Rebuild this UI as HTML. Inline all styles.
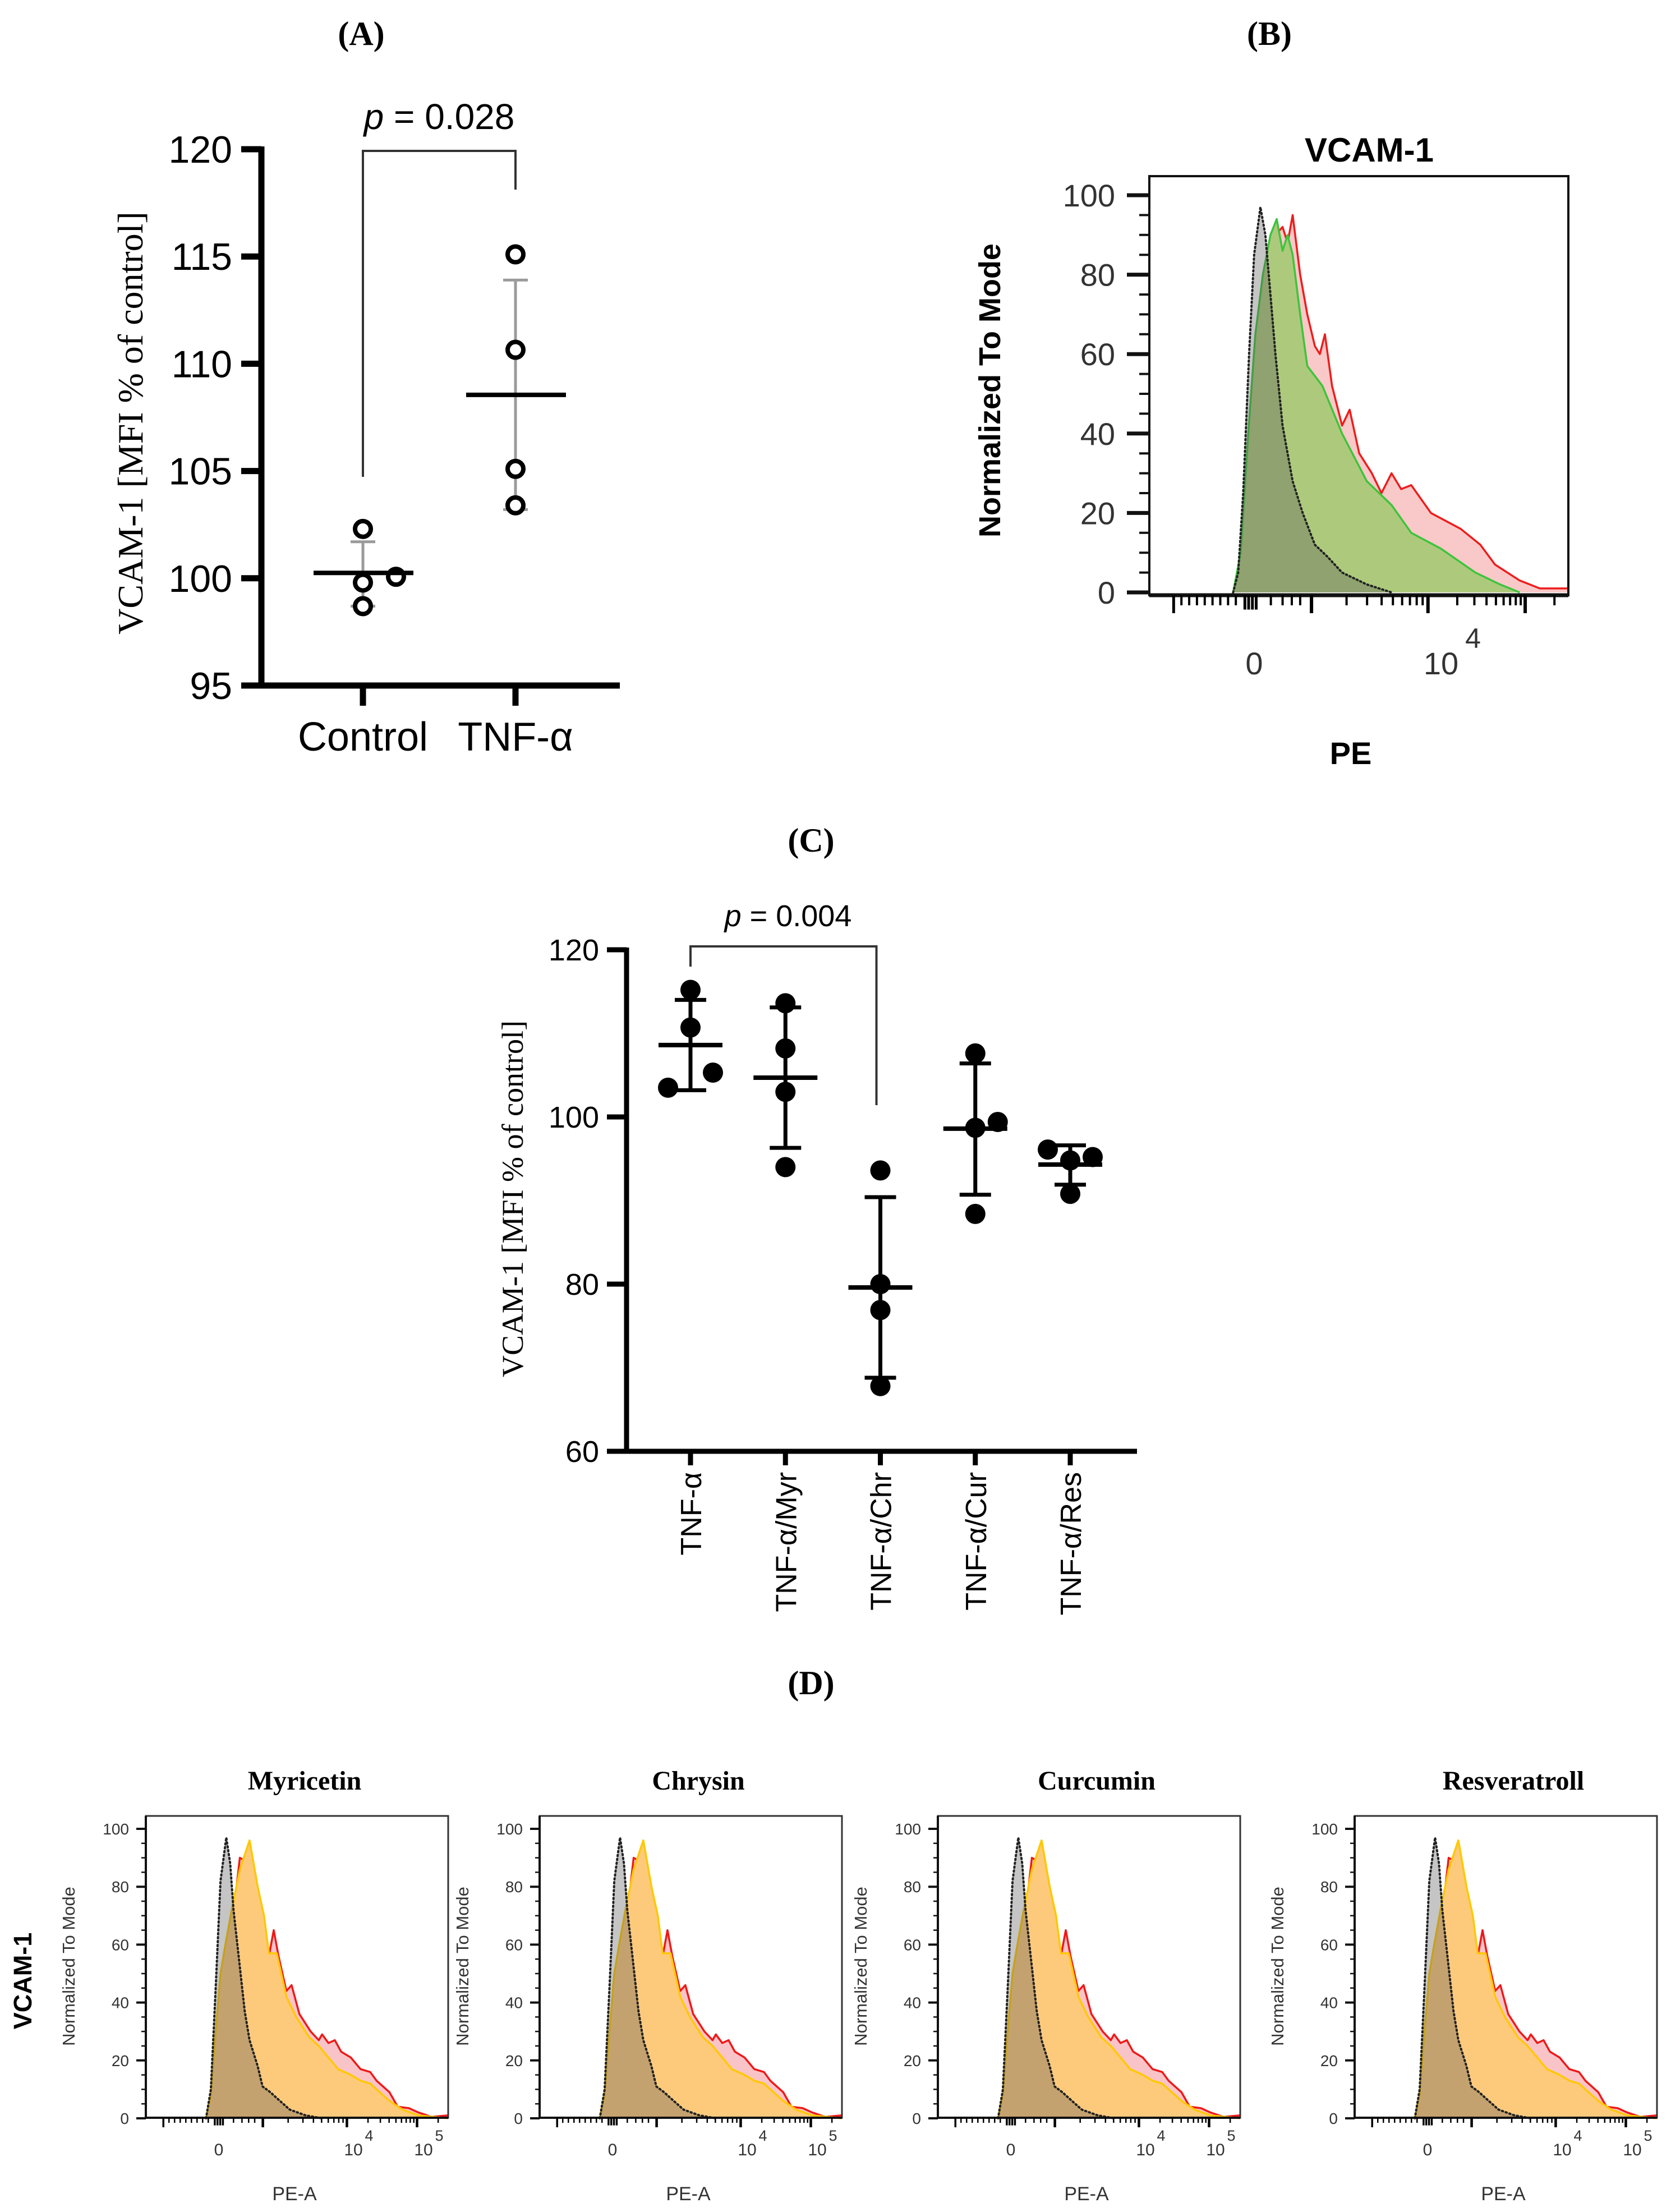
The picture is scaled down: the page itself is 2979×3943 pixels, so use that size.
<!DOCTYPE html>
<html><head><meta charset="utf-8"><style>
html,body{margin:0;padding:0;background:#fff;}
svg{display:block;}
</style></head><body>
<svg id="fig" xmlns="http://www.w3.org/2000/svg" width="2979" height="3943" viewBox="0 0 2979 3943"></svg>
<script>
// ---------- Panel A data ----------
const aCats = ['Control', 'TNF-α'];
const aCtrlVals = [102.3, 100.07, 99.8, 98.7];
const aTnfVals = [115.1, 110.65, 105.1, 103.4];
const aMeans = [100.25, 108.55];
const aSdLow = [98.7, 103.2];
const aSdHigh = [101.7, 113.9];
const aTicks = [95, 100, 105, 110, 115, 120];
// ---------- Panel C data ----------
const cCats = ['TNF-α', 'TNF-α/Myr', 'TNF-α/Chr', 'TNF-α/Cur', 'TNF-α/Res'];
const cTnf = [115.2, 110.7, 105.3, 103.5];
const cMyr = [113.6, 108.2, 103.0, 94.0];
const cChr = [93.6, 80.0, 76.9, 67.8];
const cCur = [107.6, 98.7, 99.4, 88.4];
const cRes = [96.1, 94.8, 95.2, 90.8];
const cMeans = [108.6, 104.7, 79.6, 98.6, 94.3];
const cSdLow = [103.2, 96.3, 68.8, 90.7, 91.9];
const cSdHigh = [114.0, 113.1, 90.4, 106.4, 96.6];
const cTicks = [60, 80, 100, 120];
// ---------- Panel B histogram data (x = fraction of log axis, y = % of mode) ----------
const bGrayX = [.200,.212,.224,.238,.250,.265,.277,.289,.301,.318,.342,.366,.395,.425,.460,.519,.578];
const bGrayY = [0,5,25,60,85,97,90,75,60,42,28,20,12,9,5,2,0];
const bGreenX = [.200,.218,.236,.253,.271,.289,.304,.318,.330,.342,.360,.377,.413,.460,.519,.578,.625,.696,.778,.837,.884];
const bGreenY = [0,10,40,65,80,90,94,86,90,85,70,57,52,40,28,22,15,11,5,2,0];
const bRedX = [.200,.218,.236,.253,.271,.301,.318,.330,.342,.360,.377,.395,.407,.419,.436,.460,.478,.501,.531,.554,.578,.601,.625,.672,.743,.790,.825,.884,.932,1.0];
const bRedY = [0,8,35,60,78,90,92,88,95,80,70,62,60,65,52,42,46,35,30,25,30,26,27,20,16,12,7,3,1,1];
const flowYTicks = [0, 20, 40, 60, 80, 100];
// ---------- Panel D histogram data ----------
const dTitles = ['Myricetin', 'Chrysin', 'Curcumin', 'Resveratroll'];
const dGrayX = [.199,.215,.231,.247,.266,.279,.290,.306,.327,.343,.370,.386,.412,.433,.476,.529,.583];
const dGrayY = [0,10,45,82,97,88,72,57,37,27,18,11,9,7,3,1,0];
const dRedX = [.199,.215,.231,.247,.263,.284,.300,.311,.327,.343,.364,.386,.407,.423,.439,.465,.482,.508,.545,.572,.583,.604,.625,.646,.678,.710,.742,.763,.806,.833,.870,.902,.945,1.0];
const dRedY = [0,5,25,45,58,68,80,90,89,94,74,72,56,65,56,44,46,36,30,27,29,26,27,23,21,17,16,13,9,4,3.5,2,0.5,1];
const dYelX = [.199,.215,.231,.247,.263,.284,.311,.343,.370,.391,.407,.433,.465,.497,.540,.572,.604,.636,.678,.710,.742,.806,.849,.902,1.0];
const dYelY = [0,8,30,50,60,72,86,96,80,70,57,57,42,35,28,25,21,17,15,13,12,6,3,1,0];

const NS = 'http://www.w3.org/2000/svg';
const svg = document.getElementById('fig');
function mk(tag, attrs, name, parent) {
  const e = document.createElementNS(NS, tag);
  for (const k in attrs) e.setAttribute(k, attrs[k]);
  
  
  (parent || svg).appendChild(e);
  return e;
}
function ln(x1, y1, x2, y2, stroke, w, name, p) {
  return mk('line', {x1, y1, x2, y2, stroke, 'stroke-width': w}, name, p);
}
function tx(str, x, y, attrs, name, p) {
  const t = mk('text', Object.assign({x, y}, attrs), name, p);
  t.textContent = str;
  return t;
}
const SANS = '"Liberation Sans", Arial, sans-serif';
const SERIF = '"Liberation Serif", "Times New Roman", serif';

// ================= Panel A =================
const gA = mk('g', {}, 'panel-a');
tx('(A)', 644, 80, {'font-family': SERIF, 'font-size': 60, 'font-weight': 'bold', 'text-anchor': 'middle'}, 'panel-a-label', gA);
const aY = v => 266 + (120 - v) * (956 / 25);
const aX = [647, 919];
ln(466, 261, 466, 1227, '#000', 11, 'y-axis', gA);
ln(461, 1222, 1105, 1222, '#000', 11, 'x-axis', gA);
aTicks.forEach(t => {
  ln(430, aY(t), 466, aY(t), '#000', 11, 'y-tick', gA);
  tx(String(t), 414, aY(t) + 24, {'font-family': SANS, 'font-size': 68, 'text-anchor': 'end'}, 'y-tick-label', gA);
});
aCats.forEach((c, i) => {
  ln(aX[i], 1222, aX[i], 1258, '#000', 11, 'x-tick', gA);
  tx(c, aX[i], 1338, {'font-family': SANS, 'font-size': 72, 'text-anchor': 'middle'}, 'x-tick-label', gA);
});
tx('VCAM-1 [MFI % of control]', 0, 0, {'font-family': SERIF, 'font-size': 64, 'text-anchor': 'middle', transform: 'translate(254,754) rotate(-90)'}, 'y-axis-title', gA);
mk('polyline', {points: `${aX[0]},850 ${aX[0]},269 ${aX[1]},269 ${aX[1]},338`, fill: 'none', stroke: '#333', 'stroke-width': 4}, 'significance-bracket', gA);
const pA = tx('', 783, 230, {'font-family': SANS, 'font-size': 64, 'text-anchor': 'middle'}, 'p-value-label', gA);
pA.innerHTML = '<tspan font-style="italic">p</tspan> = 0.028';
[0, 1].forEach(i => {
  ln(aX[i], aY(aSdLow[i]), aX[i], aY(aSdHigh[i]), '#9a9a9a', 5, 'error-bar', gA);
  ln(aX[i] - 22, aY(aSdLow[i]), aX[i] + 22, aY(aSdLow[i]), '#9a9a9a', 5, 'error-cap', gA);
  ln(aX[i] - 22, aY(aSdHigh[i]), aX[i] + 22, aY(aSdHigh[i]), '#9a9a9a', 5, 'error-cap', gA);
});
const aJitCtrl = [0, 59, 0, 0];
aCtrlVals.forEach((v, j) => mk('circle', {cx: aX[0] + aJitCtrl[j], cy: aY(v), r: 14, fill: '#fff', stroke: '#000', 'stroke-width': 8}, 'control-point', gA));
aTnfVals.forEach(v => mk('circle', {cx: aX[1], cy: aY(v), r: 14, fill: '#fff', stroke: '#000', 'stroke-width': 8}, 'tnf-point', gA));
[0, 1].forEach(i => ln(aX[i] - 88, aY(aMeans[i]), aX[i] + 90, aY(aMeans[i]), '#000', 8, 'mean-line', gA));

// ================= Flow histogram helpers =================
function flowAxis(L, W, y0, y100) {
  const fx = f => L + f * W;
  const fy = v => y0 - v * (y0 - y100) / 100;
  return {fx, fy};
}
function histo(g, fx, fy, xs, ys, fill, stroke, dashed, name) {
  const pts = xs.map((x, i) => `${fx(x).toFixed(1)},${fy(ys[i]).toFixed(1)}`);
  const base = fy(0);
  mk('path', {d: `M${fx(xs[0])},${base} L${pts.join(' L')} L${fx(xs[xs.length-1])},${base} Z`, fill: fill, stroke: 'none'}, name + '-fill', g);
  const a = {d: 'M' + pts.join(' L'), fill: 'none', stroke: stroke, 'stroke-width': dashed ? 4 : 3.5, 'stroke-linejoin': 'round'};
  if (dashed) { a['stroke-dasharray'] = '2 5'; a['stroke-linecap'] = 'round'; }
  mk('path', a, name + '-line', g);
}
function logTicks(g, fx, bottom, majLen, minLen, w) {
  const dec = [0.245, 0.387, 0.665, 0.897];
  const negMaj = 0.058;
  ln(fx(negMaj), bottom, fx(negMaj), bottom + majLen, '#000', w + 1, 'x-tick', g);
  for (let k = 1; k < 9; k++) {
    const f = negMaj + (0.225 - negMaj) * k / 9;
    ln(fx(f), bottom, fx(f), bottom + minLen, '#000', w, 'x-minor-tick', g);
  }
  for (let k = 0; k < 4; k++) ln(fx(0.228 + k * 0.009), bottom, fx(0.228 + k * 0.009), bottom + majLen * 0.8, '#000', w + 1, 'x-tick', g);
  [0.29, 0.318, 0.34, 0.36].forEach(f => ln(fx(f), bottom, fx(f), bottom + minLen, '#000', w, 'x-minor-tick', g));
  for (let d = 1; d < 4; d++) {
    ln(fx(dec[d]), bottom, fx(dec[d]), bottom + majLen, '#000', w + 2, 'x-tick', g);
    const span = d < 3 ? dec[d + 1] - dec[d] : 0.232;
    for (let k = 2; k <= 9; k++) {
      const f = dec[d] + Math.log10(k) * span;
      if (f < 0.99) ln(fx(f), bottom, fx(f), bottom + minLen, '#000', w, 'x-minor-tick', g);
    }
  }
}

// ================= Panel B =================
const gB = mk('g', {}, 'panel-b');
tx('(B)', 2263, 80, {'font-family': SERIF, 'font-size': 60, 'font-weight': 'bold', 'text-anchor': 'middle'}, 'panel-b-label', gB);
tx('VCAM-1', 2441, 288, {'font-family': SANS, 'font-size': 60, 'font-weight': 'bold', 'text-anchor': 'middle'}, 'histogram-title', gB);
{
  const L = 2049, T = 314, W = 747, H = 747;
  const {fx, fy} = flowAxis(L, W, 1056, 348);
  histo(gB, fx, fy, bRedX, bRedY, '#f9c8c8', '#ee1c1c', false, 'tnf-histogram');
  histo(gB, fx, fy, bGreenX, bGreenY, '#adca7c', '#3cc43c', false, 'control-histogram');
  histo(gB, fx, fy, bGrayX, bGrayY, 'rgba(90,90,90,0.35)', '#222', true, 'isotype-histogram');
  mk('rect', {x: L, y: T, width: W, height: H, fill: 'none', stroke: '#111', 'stroke-width': 4}, 'plot-frame', gB);
  ln(L, T + H, L + W, T + H, '#111', 7, 'x-axis', gB);
  for (let v = 0; v <= 100; v += 5) {
    const maj = v % 20 === 0;
    ln(maj ? L - 40 : L - 18, fy(v), L, fy(v), '#111', maj ? 7 : 4, maj ? 'y-tick' : 'y-minor-tick', gB);
  }
  flowYTicks.forEach(v => tx(String(v), 1988, fy(v) + 20, {'font-family': SANS, 'font-size': 56, fill: '#333', 'text-anchor': 'end'}, 'y-tick-label', gB));
  logTicks(gB, fx, T + H, 32, 18, 4);
  tx('0', 2236, 1202, {'font-family': SANS, 'font-size': 56, fill: '#333', 'text-anchor': 'middle'}, 'x-tick-label', gB);
  tx('10', 2569, 1202, {'font-family': SANS, 'font-size': 56, fill: '#333', 'text-anchor': 'middle'}, 'x-tick-label', gB);
  tx('4', 2626, 1155, {'font-family': SANS, 'font-size': 50, fill: '#333', 'text-anchor': 'middle'}, 'x-tick-exponent', gB);
  tx('PE', 2408, 1362, {'font-family': SANS, 'font-size': 56, 'font-weight': 'bold', 'text-anchor': 'middle'}, 'x-axis-title', gB);
  tx('Normalized To Mode', 0, 0, {'font-family': SANS, 'font-size': 54, 'font-weight': 'bold', 'text-anchor': 'middle', transform: 'translate(1783,696) rotate(-90)'}, 'y-axis-title', gB);
}

// ================= Panel C =================
const gC = mk('g', {}, 'panel-c');
tx('(C)', 1446, 1518, {'font-family': SERIF, 'font-size': 60, 'font-weight': 'bold', 'text-anchor': 'middle'}, 'panel-c-label', gC);
const cY = v => 1693 + (120 - v) * (2587 - 1693) / 60;
const cX = i => 1231 + i * 169.25;
ln(1117, 1689, 1117, 2591, '#000', 9, 'y-axis', gC);
ln(1113, 2587, 2027, 2587, '#000', 9, 'x-axis', gC);
cTicks.forEach(t => {
  ln(1082, cY(t), 1117, cY(t), '#000', 9, 'y-tick', gC);
  tx(String(t), 1068, cY(t) + 19, {'font-family': SANS, 'font-size': 54, 'text-anchor': 'end'}, 'y-tick-label', gC);
});
cCats.forEach((c, i) => {
  ln(cX(i), 2587, cX(i), 2612, '#000', 9, 'x-tick', gC);
  tx(c, 0, 0, {'font-family': SANS, 'font-size': 52, 'text-anchor': 'end', transform: `translate(${cX(i) + 19},2624) rotate(-90)`}, 'x-tick-label', gC);
});
tx('VCAM-1 [MFI % of control]', 0, 0, {'font-family': SERIF, 'font-size': 54, 'text-anchor': 'middle', transform: 'translate(932,2137) rotate(-90)'}, 'y-axis-title', gC);
mk('polyline', {points: `${cX(0)},1723 ${cX(0)},1687 ${cX(2) - 7},1687 ${cX(2) - 7},1970`, fill: 'none', stroke: '#333', 'stroke-width': 4}, 'significance-bracket', gC);
const pC = tx('', 1405, 1651, {'font-family': SANS, 'font-size': 54, 'text-anchor': 'middle'}, 'p-value-label', gC);
pC.innerHTML = '<tspan font-style="italic">p</tspan> = 0.004';
const cGroups = [cTnf, cMyr, cChr, cCur, cRes];
const cJit = [[0, 0, 1, -1], [0, 0, 0, 0], [0, 0, 0, 0], [0, 0, 1, 0], [-1, 0, 1, 0]];
cGroups.forEach((vals, i) => {
  const x = cX(i);
  ln(x, cY(cSdLow[i]), x, cY(cSdHigh[i]), '#000', 7, 'error-bar', gC);
  ln(x - 28, cY(cSdLow[i]), x + 28, cY(cSdLow[i]), '#000', 7, 'error-cap', gC);
  ln(x - 28, cY(cSdHigh[i]), x + 28, cY(cSdHigh[i]), '#000', 7, 'error-cap', gC);
  vals.forEach((v, j) => mk('circle', {cx: x + cJit[i][j] * 40, cy: cY(v), r: 18, fill: '#000'}, 'data-point', gC));
  ln(x - 57, cY(cMeans[i]), x + 57, cY(cMeans[i]), '#000', 8, 'mean-line', gC);
});

// ================= Panel D =================
const gD = mk('g', {}, 'panel-d');
tx('(D)', 1446, 3020, {'font-family': SERIF, 'font-size': 60, 'font-weight': 'bold', 'text-anchor': 'middle'}, 'panel-d-label', gD);
tx('VCAM-1', 0, 0, {'font-family': SANS, 'font-size': 45, 'font-weight': 'bold', 'text-anchor': 'middle', transform: 'translate(56,3531) rotate(-90)'}, 'row-label', gD);
const dLefts = [260, 962, 1672, 2415];
dTitles.forEach((title, p) => {
  const g = mk('g', {}, 'histogram-' + title.toLowerCase(), gD);
  const L = dLefts[p], T = 3237, W = 539, B = 3775;
  const {fx, fy} = flowAxis(L, W, 3776, 3260);
  histo(g, fx, fy, dRedX, dRedY, '#f8c4c8', '#f01818', false, 'treated-histogram');
  histo(g, fx, fy, dYelX, dYelY, '#fdca7c', '#ffc800', false, 'tnf-histogram');
  histo(g, fx, fy, dGrayX, dGrayY, 'rgba(90,90,90,0.35)', '#222', true, 'isotype-histogram');
  mk('rect', {x: L, y: T, width: W, height: B - T, fill: 'none', stroke: '#333', 'stroke-width': 3}, 'plot-frame', g);
  ln(L, T, L, B, '#111', 4, 'y-axis', g);
  ln(L, B, L + W, B, '#111', 4, 'x-axis', g);
  for (let v = 0; v <= 100; v += 5) {
    const maj = v % 20 === 0;
    ln(maj ? L - 17 : L - 8, fy(v), L, fy(v), '#111', maj ? 4 : 2.5, maj ? 'y-tick' : 'y-minor-tick', g);
  }
  flowYTicks.forEach(v => tx(String(v), L - 30, fy(v) + 10, {'font-family': SANS, 'font-size': 28, fill: '#333', 'text-anchor': 'end'}, 'y-tick-label', g));
  logTicks(g, fx, B, 17, 9, 2.5);
  tx(title, L + 283, 3190, {'font-family': SERIF, 'font-size': 48, 'font-weight': 'bold', 'text-anchor': 'middle'}, 'histogram-title', g);
  tx('Normalized To Mode', 0, 0, {'font-family': SANS, 'font-size': 31, fill: '#333', 'text-anchor': 'middle', transform: `translate(${L - 127},3505) rotate(-90)`}, 'y-axis-title', g);
  tx('0', L + 130, 3842, {'font-family': SANS, 'font-size': 30, fill: '#333', 'text-anchor': 'middle'}, 'x-tick-label', g);
  tx('10', L + 370, 3842, {'font-family': SANS, 'font-size': 30, fill: '#333', 'text-anchor': 'middle'}, 'x-tick-label', g);
  tx('4', L + 398, 3816, {'font-family': SANS, 'font-size': 27, fill: '#333', 'text-anchor': 'middle'}, 'x-tick-exponent', g);
  tx('10', L + 495, 3842, {'font-family': SANS, 'font-size': 30, fill: '#333', 'text-anchor': 'middle'}, 'x-tick-label', g);
  tx('5', L + 523, 3816, {'font-family': SANS, 'font-size': 27, fill: '#333', 'text-anchor': 'middle'}, 'x-tick-exponent', g);
  tx('PE-A', L + 265, 3922, {'font-family': SANS, 'font-size': 34, fill: '#333', 'text-anchor': 'middle'}, 'x-axis-title', g);
});
</script>
</body></html>
